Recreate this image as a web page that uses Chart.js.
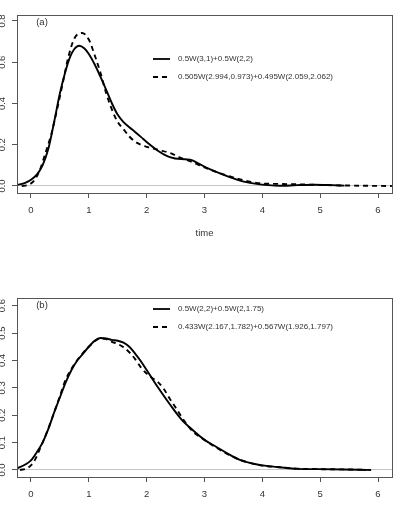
<!DOCTYPE html>
<html>
<head>
<meta charset="utf-8">
<script src="https://cdn.jsdelivr.net/npm/chart.js@4/dist/chart.umd.min.js"></script>
<style>
  html, body { margin: 0; padding: 0; background: #fff; }
  #wrap { position: relative; width: 402px; height: 508px; overflow: hidden; background: #fff; }
  canvas { position: absolute; left: 0; }
  #c1 { top: 0; }
  #c2 { top: 250px; }
</style>
</head>
<body>
<div id="wrap">
  <canvas id="c1" width="402" height="250"></canvas>
  <canvas id="c2" width="402" height="258"></canvas>
</div>
<script>
// ---------- data ----------
const xTicks = [0, 1, 2, 3, 4, 5, 6];
const yTicksA = [0, 0.2, 0.4, 0.6, 0.8];
const yTicksB = [0, 0.1, 0.2, 0.3, 0.4, 0.5, 0.6];
const yTickLabelsA = ["0.0", "0.2", "0.4", "0.6", "0.8"];
const yTickLabelsB = ["0.0", "0.1", "0.2", "0.3", "0.4", "0.5", "0.6"];
const xTitleA = "time";
const panelLabels = ["(a)", "(b)"];
const legendA = ["0.5W(3,1)+0.5W(2,2)", "0.505W(2.994,0.973)+0.495W(2.059,2.062)"];
const legendB = ["0.5W(2,2)+0.5W(2,1.75)", "0.433W(2.167,1.782)+0.567W(1.926,1.797)"];

// panel (a) solid
const tA1 = [-0.24, -0.1, 0.0, 0.1, 0.2, 0.3, 0.4, 0.5, 0.6, 0.68, 0.75, 0.83, 0.92, 1.0, 1.1, 1.2, 1.3, 1.4, 1.5, 1.6, 1.7, 1.8, 1.9, 2.0, 2.2, 2.4, 2.6, 2.75, 2.9, 3.1, 3.3, 3.5, 3.7, 3.9, 4.1, 4.3, 4.6, 4.9, 5.2, 5.42];
const vA1 = [0.005, 0.015, 0.03, 0.055, 0.10, 0.18, 0.31, 0.45, 0.56, 0.628, 0.664, 0.68, 0.668, 0.64, 0.59, 0.53, 0.466, 0.40, 0.345, 0.31, 0.285, 0.262, 0.238, 0.213, 0.17, 0.14, 0.13, 0.128, 0.108, 0.08, 0.058, 0.037, 0.02, 0.01, 0.004, 0.001, 0.004, 0.006, 0.004, 0.002];
// panel (a) dashed
const tA2 = [-0.16, -0.05, 0.05, 0.15, 0.25, 0.35, 0.45, 0.55, 0.65, 0.75, 0.88, 1.0, 1.1, 1.2, 1.3, 1.4, 1.5, 1.6, 1.7, 1.8, 1.9, 2.0, 2.2, 2.4, 2.6, 2.8, 3.0, 3.2, 3.4, 3.6, 3.8, 4.0, 4.3, 4.6, 5.0, 5.5, 6.24];
const vA2 = [0.0, 0.005, 0.025, 0.075, 0.16, 0.25, 0.37, 0.50, 0.63, 0.715, 0.742, 0.71, 0.635, 0.55, 0.45, 0.37, 0.31, 0.275, 0.24, 0.215, 0.20, 0.19, 0.175, 0.16, 0.135, 0.115, 0.09, 0.068, 0.05, 0.033, 0.02, 0.012, 0.01, 0.008, 0.005, 0.002, 0.0];
// panel (b) solid
const tB1 = [-0.24, -0.1, 0.0, 0.1, 0.2, 0.3, 0.4, 0.5, 0.6, 0.7, 0.8, 0.9, 1.0, 1.1, 1.2, 1.3, 1.4, 1.5, 1.6, 1.7, 1.8, 1.9, 2.0, 2.2, 2.4, 2.6, 2.8, 3.0, 3.2, 3.4, 3.6, 3.8, 4.0, 4.3, 4.6, 5.0, 5.4, 5.8];
const vB1 = [0.006, 0.02, 0.035, 0.065, 0.10, 0.15, 0.21, 0.265, 0.32, 0.365, 0.40, 0.425, 0.45, 0.472, 0.482, 0.48, 0.475, 0.472, 0.465, 0.45, 0.425, 0.397, 0.365, 0.30, 0.24, 0.185, 0.145, 0.11, 0.085, 0.06, 0.038, 0.025, 0.017, 0.01, 0.004, 0.003, 0.002, 0.0];
// panel (b) dashed
const tB2 = [-0.19, -0.05, 0.05, 0.15, 0.25, 0.35, 0.5, 0.6, 0.7, 0.85, 1.0, 1.1, 1.2, 1.3, 1.4, 1.5, 1.6, 1.7, 1.8, 1.9, 2.0, 2.1, 2.2, 2.3, 2.4, 2.5, 2.6, 2.7, 2.8, 3.0, 3.2, 3.4, 3.6, 3.8, 4.0, 4.3, 4.6, 5.0, 5.5, 5.9];
const vB2 = [0.0, 0.008, 0.03, 0.075, 0.125, 0.18, 0.27, 0.33, 0.37, 0.415, 0.45, 0.47, 0.48, 0.478, 0.468, 0.46, 0.448, 0.43, 0.405, 0.375, 0.352, 0.335, 0.32, 0.295, 0.26, 0.228, 0.195, 0.165, 0.14, 0.11, 0.082, 0.058, 0.038, 0.025, 0.016, 0.01, 0.005, 0.003, 0.002, 0.0];

// ---------- helpers ----------
const zip = (xs, ys) => xs.map((x, i) => ({ x: x, y: ys[i] }));
const FONT = "'Liberation Sans', Arial, Helvetica, sans-serif";
const TXT = '#333';
const LINE = '#555';

function lineDs(label, xs, ys, dash) {
  return {
    label: label,
    data: zip(xs, ys),
    borderColor: '#000',
    borderWidth: 1.9,
    borderDash: dash,
    pointRadius: 0,
    fill: false,
    cubicInterpolationMode: 'monotone',
    tension: 0.4
  };
}

const deco = {
  id: 'deco',
  afterDraw(chart, args, opts) {
    const { ctx, chartArea: ca } = chart;
    const ys = chart.scales.y;
    ctx.save();
    // box
    ctx.strokeStyle = LINE;
    ctx.lineWidth = 1;
    ctx.setLineDash([]);
    ctx.strokeRect(Math.round(ca.left) + 0.5, Math.round(ca.top) + 0.5, Math.round(ca.right - ca.left), Math.round(ca.bottom - ca.top));
    // rotated y tick labels
    ctx.fillStyle = TXT;
    ctx.font = '9.5px ' + FONT;
    ctx.textAlign = 'center';
    ctx.textBaseline = 'alphabetic';
    opts.yTicks.forEach((v, i) => {
      const py = ys.getPixelForValue(v);
      ctx.save();
      ctx.translate(4.8, py);
      ctx.rotate(-Math.PI / 2);
      ctx.fillText(opts.yLabels[i], 0, 0);
      ctx.restore();
    });
    // panel label
    ctx.textBaseline = 'middle';
    ctx.fillText(opts.panel, 42, ca.top + 7);
    // legend
    ctx.font = '8px ' + FONT;
    ctx.textAlign = 'left';
    chart.data.datasets.forEach((ds, i) => {
      const y = opts.legendY[i];
      ctx.strokeStyle = ds.borderColor;
      ctx.lineWidth = 1.8;
      ctx.setLineDash(ds.borderDash || []);
      ctx.beginPath();
      ctx.moveTo(153, y);
      ctx.lineTo(170, y);
      ctx.stroke();
      ctx.setLineDash([]);
      ctx.fillStyle = TXT;
      ctx.fillText(ds.label, 178, y);
    });
    ctx.restore();
  }
};

function makeChart(el, cfg) {
  return new Chart(el, {
    type: 'line',
    data: { datasets: cfg.datasets },
    plugins: [deco],
    options: {
      responsive: false,
      animation: false,
      events: [],
      layout: { padding: { left: 0, right: 10, top: cfg.padTop, bottom: 0 } },
      plugins: {
        legend: { display: false },
        tooltip: { enabled: false },
        deco: { yTicks: cfg.yTicks, yLabels: cfg.yLabels, panel: cfg.panel, legendY: [59, 77] }
      },
      scales: {
        x: {
          type: 'linear',
          min: -0.242, max: 6.242,
          afterBuildTicks: s => { s.ticks = xTicks.map(v => ({ value: v })); },
          afterFit: s => { s.height = cfg.xHeight; },
          border: { display: false },
          grid: { drawOnChartArea: false, drawTicks: true, tickLength: 5, tickColor: LINE, tickWidth: 1 },
          ticks: { color: TXT, font: { family: FONT, size: 9.5 }, padding: 7, maxRotation: 0, callback: v => String(v) },
          title: cfg.xTitle ? { display: true, text: cfg.xTitle, color: TXT, font: { family: FONT, size: 9.5 }, padding: { top: 0, bottom: 11 } } : { display: false }
        },
        y: {
          type: 'linear',
          min: cfg.yMin, max: cfg.yMax,
          afterBuildTicks: s => { s.ticks = cfg.yTicks.map(v => ({ value: v })); },
          afterFit: s => { s.width = 17; },
          border: { display: false },
          grid: {
            drawOnChartArea: true,
            drawTicks: true,
            tickLength: 5,
            tickColor: LINE,
            lineWidth: 1,
            color: c => (c.tick && c.tick.value === 0) ? '#c4c4c4' : 'rgba(0,0,0,0)'
          },
          ticks: { display: false }
        }
      }
    }
  });
}

makeChart(document.getElementById('c1'), {
  datasets: [lineDs(legendA[0], tA1, vA1, []), lineDs(legendA[1], tA2, vA2, [5, 4])],
  padTop: 15, xHeight: 57, yMin: -0.034, yMax: 0.829,
  yTicks: yTicksA, yLabels: yTickLabelsA, panel: panelLabels[0], xTitle: xTitleA
});
makeChart(document.getElementById('c2'), {
  datasets: [lineDs(legendB[0], tB1, vB1, []), lineDs(legendB[1], tB2, vB2, [5, 4])],
  padTop: 48, xHeight: 31, yMin: -0.0256, yMax: 0.628,
  yTicks: yTicksB, yLabels: yTickLabelsB, panel: panelLabels[1], xTitle: null
});
</script>
</body>
</html>
